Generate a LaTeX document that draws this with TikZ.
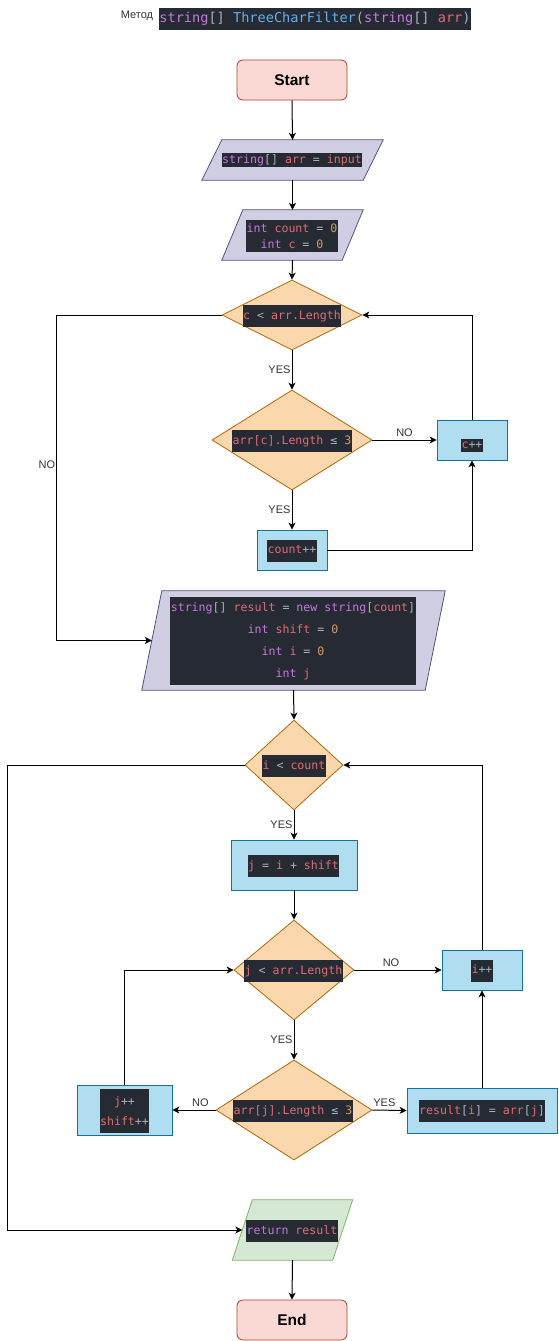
\documentclass[tikz,border=0pt]{standalone}
\usepackage{fontspec}
\setmainfont{Liberation Sans}
\newfontfamily\codefont{DejaVu Sans Mono}
\usetikzlibrary{shapes.geometric, arrows.meta, calc}

% code syntax colours
\definecolor{codebg}{HTML}{262A32}
\definecolor{cgry}{HTML}{ABB2BF}
\definecolor{cpur}{HTML}{C678DD}
\definecolor{cred}{HTML}{E06C75}
\definecolor{corg}{HTML}{D19A66}
\definecolor{cblu}{HTML}{61AFEF}
% shape colours
\definecolor{termfill}{HTML}{FAD9D5}
\definecolor{termdraw}{HTML}{AE4132}
\definecolor{iofill}{HTML}{D0CEE2}
\definecolor{iodraw}{HTML}{56517E}
\definecolor{decfill}{HTML}{FAD7AC}
\definecolor{decdraw}{HTML}{B46504}
\definecolor{procfill}{HTML}{B1DDF0}
\definecolor{procdraw}{HTML}{10739E}
\definecolor{retfill}{HTML}{D5E8D4}
\definecolor{retdraw}{HTML}{82B366}

\newcommand{\cK}[1]{\textcolor{cpur}{#1}}
\newcommand{\cV}[1]{\textcolor{cred}{#1}}
\newcommand{\cN}[1]{\textcolor{corg}{#1}}
\newcommand{\cF}[1]{\textcolor{cblu}{#1}}

% parallelogram outline over the bounding box of node #2, top edge shifted right by #3
\newcommand{\slantbox}[3]{%
  \draw[#1] ($(#2.north west)+(#3,0)$) -- (#2.north east) -- ($(#2.south east)+(-#3,0)$)
    -- (#2.south west) -- cycle;
  \coordinate (#2-w) at ($(#2.west)+(#3/2,0)$);}

\tikzset{
  term/.style={rectangle, rounded corners=6pt, draw=termdraw, fill=termfill, line width=0.8pt,
    minimum width=110pt, minimum height=40pt, inner sep=0pt,
    font=\fontsize{15.5}{18}\selectfont\bfseries},
  iobox/.style={rectangle, draw=none, inner sep=0pt},
  io/.style={draw=iodraw, fill=iofill, line width=0.8pt},
  retio/.style={draw=retdraw, fill=retfill, line width=0.8pt},
  dec/.style={diamond, draw=decdraw, fill=decfill, line width=0.8pt, inner sep=0pt},
  proc/.style={rectangle, draw=procdraw, fill=procfill, line width=0.8pt, inner sep=0pt},
  code/.style={rectangle, fill=codebg, text=cgry, inner xsep=0.5pt, inner ysep=0pt,
    font=\codefont\fontsize{11.6}{14}\selectfont, text height=8.5pt, text depth=2.5pt, minimum height=22pt},
  codeml/.style={rectangle, fill=codebg, text=cgry, inner xsep=0.5pt, inner ysep=0pt, align=center},
  flow/.style={draw=black, line width=1pt, -{Stealth[length=7pt,width=7pt,inset=2pt]}},
  lbl/.style={font=\fontsize{11}{13}\selectfont, text=black!80, inner sep=1pt},
}

\begin{document}
\begin{tikzpicture}[x=1pt,y=-1pt]
\fill[white] (0,0) rectangle (558,1341);
\useasboundingbox (0,0) rectangle (558,1341);

% heading
\node[lbl, font=\fontsize{11}{13}\selectfont] (mlabel) at (137,16) {Метод};
\node[code, font=\codefont\fontsize{13.6}{16}\selectfont, text height=10pt, text depth=3pt] (title) at (315,18.5)
  {\cK{string}[] \cF{ThreeCharFilter}(\cK{string}[] \cV{arr})};

% first part: counting short strings
\node[term] (start) at (292,80) {Start};

\node[iobox, minimum width=181pt, minimum height=40pt] (p1) at (292.5,160) {};
\slantbox{io}{p1}{20}
\node[code, minimum height=14pt] (t1) at (292,160) {\cK{string}[] \cV{arr} = \cV{input}};

\node[iobox, minimum width=141pt, minimum height=50pt] (p2) at (292.5,235) {};
\slantbox{io}{p2}{21}
\node[codeml, font=\codefont\fontsize{11.6}{16}\selectfont, minimum height=32pt] (t2) at (292,236)
  {\cK{int} \cV{count} = \cN{0}\\\cK{int} \cV{c} = \cN{0}};

\node[dec, minimum width=140pt, minimum height=70pt] (d1) at (292,315) {};
\node[code] (t3) at (292,316) {\cV{c} < \cV{arr.Length}};

\node[dec, minimum width=160pt, minimum height=100pt] (d2) at (292,440) {};
\node[code] (t4) at (292,441) {\cV{arr[c].Length} ≤ \cN{3}};

\node[proc, minimum width=70pt, minimum height=40pt] (cpp) at (472,440) {};
\node[code, minimum height=13pt] (t5) at (472,445) {\cV{c}++};

\node[proc, minimum width=70pt, minimum height=40pt] (cntpp) at (292,550) {};
\node[code] (t6) at (292,550.5) {\cV{count}++};

\node[iobox, minimum width=303pt, minimum height=99pt] (p3) at (293.5,640.5) {};
\slantbox{io}{p3}{20}
\node[codeml, font=\codefont\fontsize{11.6}{22}\selectfont, minimum height=88pt] (t7) at (293,641)
  {\cK{string}[] \cV{result} = \cK{new} \cK{string}[\cV{count}]\\
   \cK{int} \cV{shift} = \cN{0}\\
   \cK{int} \cV{i} = \cN{0}\\
   \cK{int} \cV{j}};

% second part: filling the result array
\node[dec, minimum width=98pt, minimum height=90pt] (d3) at (294,765) {};
\node[code] (t8) at (294,766) {\cV{i} < \cV{count}};

\node[proc, minimum width=126pt, minimum height=50pt] (jbox) at (294,865) {};
\node[code] (t9) at (293.5,866) {\cV{j} = \cV{i} + \cV{shift}};

\node[dec, minimum width=120pt, minimum height=100pt] (d4) at (294,970) {};
\node[code] (t10) at (293.5,971) {\cV{j} < \cV{arr.Length}};

\node[proc, minimum width=80pt, minimum height=40pt] (ipp) at (482,970) {};
\node[code] (t11) at (482,970.5) {\cV{i}++};

\node[dec, minimum width=156pt, minimum height=100pt] (d5) at (294,1110) {};
\node[code] (t12) at (293,1111) {\cV{arr[j].Length} ≤ \cN{3}};

\node[proc, minimum width=95pt, minimum height=50pt] (jpp) at (124.5,1110) {};
\node[codeml, font=\codefont\fontsize{11.6}{20}\selectfont, minimum height=44pt] (t13) at (124.5,1111)
  {\cV{j}++\\\cV{shift}++};

\node[proc, minimum width=150pt, minimum height=45pt] (res) at (482,1110.5) {};
\node[code] (t14) at (482,1111) {\cV{result}[\cV{i}] = \cV{arr}[\cV{j}]};

\node[iobox, minimum width=120pt, minimum height=60pt] (ret) at (292.5,1230) {};
\slantbox{retio}{ret}{20}
\node[code] (t15) at (292,1231) {\cK{return} \cV{result}};

\node[term] (end) at (292,1320) {End};

% connectors
\draw[flow] (start.south) -- (p1.north);
\draw[flow] (p1.south) -- (p2.north);
\draw[flow] (p2.south) -- (d1.north);
\draw[flow] (d1.south) -- node[lbl, midway, left=0pt] {YES} (d2.north);
\draw[flow] (d2.east) -- node[lbl, midway, above=2pt] {NO} (cpp.west);
\draw[flow] (cpp.north) |- (d1.east);
\draw[flow] (d2.south) -- node[lbl, midway, left=0pt] {YES} (cntpp.north);
\draw[flow] (cntpp.east) -| (cpp.south);
\draw[flow] (d1.west) -- ++(-165,0) |- node[lbl, pos=0.23, left=0pt] {NO} (p3-w);
\draw[flow] (p3.south) -- (d3.north);
\draw[flow] (d3.south) -- node[lbl, midway, left=0pt] {YES} (jbox.north);
\draw[flow] (jbox.south) -- (d4.north);
\draw[flow] (d4.east) -- node[lbl, pos=0.42, above=2pt] {NO} (ipp.west);
\draw[flow] (ipp.north) |- (d3.east);
\draw[flow] (d4.south) -- node[lbl, midway, left=0pt] {YES} (d5.north);
\draw[flow] (d5.west) -- node[lbl, pos=0.35, above=2pt] {NO} (jpp.east);
\draw[flow] (jpp.north) |- (d4.west);
\draw[flow] (d5.east) -- node[lbl, pos=0.35, above=2pt] {YES} (res.west);
\draw[flow] (res.north) -- (ipp.south);
\draw[flow] (d3.west) -- ++(-237,0) |- (ret-w);
\draw[flow] (ret.south) -- (end.north);
\end{tikzpicture}
\end{document}
